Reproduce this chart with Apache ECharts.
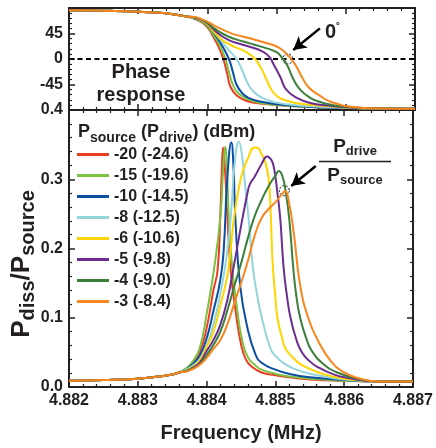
<!DOCTYPE html>
<html style="height: 100%">
<head>
<meta charset="utf-8">
<script src="https://cdn.jsdelivr.net/npm/echarts@6/dist/echarts.min.js"></script>
</head>
<body style="height: 100%; margin: 0; background: #fff">
<div id="container" style="width: 436px; height: 448px"></div>
<script type="text/javascript">
var FONT = '"Liberation Sans", Arial, sans-serif';
var INK = '#231f20';

// legend names and colours, in drawing order
var names = ['-20 (-24.6)', '-15 (-19.6)', '-10 (-14.5)', '-8 (-12.5)', '-6 (-10.6)', '-5 (-9.8)', '-4 (-9.0)', '-3 (-8.4)'];
var colors = ['#ee3b24', '#7dc242', '#0b4ea2', '#94d5dc', '#ffd400', '#6c2d91', '#3b7f3a', '#f7861f'];

// phase response (deg) - [MHz, deg]
var phaseStart = [[4.882, 86], [4.8825, 85], [4.883, 83.5], [4.8833, 81.5], [4.8835, 79], [4.8837, 75]];
var phaseEnd = [[4.8865, -87.5], [4.887, -88]];
var phase20 = [[4.8838, 71.5], [4.8839, 66], [4.884, 56], [4.88408, 40], [4.88416, 22], [4.88423, 0], [4.88429, -28], [4.88433, -48], [4.88442, -64], [4.88457, -74], [4.8848, -79], [4.8851, -82], [4.8855, -84.5], [4.886, -86.3]];
var phase15 = [[4.8838, 72], [4.8839, 67], [4.884, 57.5], [4.88408, 43], [4.88417, 26], [4.88426, 0], [4.88432, -27], [4.88437, -46], [4.88445, -61], [4.8846, -72], [4.8848, -78], [4.8851, -82], [4.8855, -84.5], [4.886, -86.3]];
var phase10 = [[4.8838, 72.5], [4.8839, 68], [4.884, 60], [4.8841, 45], [4.8842, 26], [4.88431, 0], [4.88437, -24], [4.88442, -45], [4.8845, -60], [4.8846, -69], [4.8848, -76], [4.8851, -81], [4.8855, -84.5], [4.886, -86.3]];
var phase8 = [[4.8838, 73], [4.8839, 69], [4.884, 62], [4.8841, 47], [4.8842, 32], [4.8843, 17], [4.88442, 0], [4.8845, -19], [4.88457, -40], [4.88466, -57], [4.8848, -69], [4.885, -77], [4.8852, -80.5], [4.8855, -83.5], [4.886, -86]];
var phase6 = [[4.8838, 73], [4.8839, 69], [4.884, 61], [4.8841, 47], [4.8842, 35], [4.8843, 27], [4.8844, 21], [4.8845, 16], [4.8846, 9], [4.88469, 0], [4.88478, -17], [4.88486, -38], [4.88493, -55], [4.885, -65], [4.8851, -72], [4.8853, -78], [4.8856, -82], [4.886, -85.5]];
var phase5 = [[4.8838, 73.5], [4.8839, 70], [4.884, 63], [4.8841, 51], [4.8842, 41], [4.8843, 34], [4.8844, 29], [4.8846, 22], [4.8848, 13], [4.8849, 3], [4.88495, -8], [4.88505, -31], [4.88514, -54], [4.8853, -69], [4.8855, -78], [4.8858, -83], [4.886, -85]];
var phase4 = [[4.8838, 74], [4.8839, 70.5], [4.884, 64], [4.8841, 54], [4.8842, 46], [4.8843, 40], [4.8844, 35], [4.8846, 28], [4.8848, 21], [4.885, 12], [4.88508, 2], [4.88515, -10], [4.88524, -35], [4.88534, -54], [4.88548, -68], [4.88563, -76], [4.8858, -81], [4.886, -84], [4.8862, -86]];
var phase3 = [[4.8838, 74.5], [4.8839, 71], [4.884, 66], [4.8841, 59], [4.8842, 53], [4.8843, 47.5], [4.8844, 43], [4.8846, 37], [4.8848, 30], [4.885, 22], [4.8851, 14], [4.88515, 8], [4.88521, 0], [4.88529, -14], [4.88538, -35], [4.88548, -52], [4.88563, -65], [4.88575, -74], [4.8859, -80], [4.886, -83], [4.8862, -86]];

// Pdiss/Psource - [MHz, ratio]
var dissStart = [[4.882, 0.009], [4.8825, 0.01], [4.883, 0.012], [4.8833, 0.015], [4.8835, 0.018], [4.8836, 0.021]];
var dissEnd = [[4.8865, 0.008], [4.887, 0.008]];
var diss20 = [[4.8837, 0.026], [4.8838, 0.035], [4.8839, 0.05], [4.884, 0.085], [4.8841, 0.14], [4.88416, 0.169], [4.8842, 0.25], [4.88422, 0.31], [4.88424, 0.346], [4.88427, 0.31], [4.8843, 0.25], [4.88435, 0.169], [4.88442, 0.111], [4.8845, 0.062], [4.88457, 0.04], [4.88465, 0.03], [4.8848, 0.021], [4.885, 0.017], [4.8852, 0.014], [4.8855, 0.011], [4.886, 0.009]];
var diss15 = [[4.8837, 0.027], [4.8838, 0.037], [4.8839, 0.056], [4.884, 0.105], [4.8841, 0.165], [4.8842, 0.245], [4.88424, 0.313], [4.88427, 0.347], [4.8843, 0.305], [4.88432, 0.25], [4.88437, 0.175], [4.88444, 0.115], [4.88452, 0.066], [4.8846, 0.043], [4.8847, 0.032], [4.8848, 0.025], [4.885, 0.019], [4.8852, 0.015], [4.8855, 0.012], [4.886, 0.009]];
var diss10 = [[4.8837, 0.025], [4.8838, 0.033], [4.8839, 0.045], [4.884, 0.07], [4.8841, 0.11], [4.8842, 0.155], [4.88425, 0.2], [4.8843, 0.3], [4.88436, 0.353], [4.88439, 0.32], [4.88442, 0.24], [4.88449, 0.145], [4.88459, 0.087], [4.88471, 0.047], [4.8848, 0.035], [4.885, 0.025], [4.8852, 0.019], [4.8855, 0.014], [4.886, 0.01]];
var diss8 = [[4.8837, 0.025], [4.8838, 0.031], [4.8839, 0.04], [4.884, 0.06], [4.8841, 0.09], [4.8842, 0.135], [4.8843, 0.195], [4.88437, 0.27], [4.8844, 0.315], [4.88447, 0.354], [4.88451, 0.338], [4.88456, 0.292], [4.88461, 0.244], [4.88467, 0.175], [4.88474, 0.13], [4.88481, 0.097], [4.88493, 0.055], [4.885, 0.045], [4.8851, 0.036], [4.8853, 0.025], [4.8856, 0.017], [4.886, 0.011]];
var diss6 = [[4.8837, 0.024], [4.8838, 0.029], [4.8839, 0.038], [4.884, 0.058], [4.8841, 0.08], [4.8842, 0.118], [4.8843, 0.16], [4.88435, 0.2], [4.8844, 0.245], [4.8845, 0.302], [4.8846, 0.33], [4.8847, 0.346], [4.88475, 0.345], [4.8848, 0.336], [4.88485, 0.326], [4.8849, 0.302], [4.88493, 0.255], [4.88496, 0.18], [4.885, 0.13], [4.88503, 0.1], [4.8851, 0.07], [4.88515, 0.055], [4.8853, 0.038], [4.8854, 0.031], [4.8856, 0.022], [4.8858, 0.016], [4.886, 0.012]];
var diss5 = [[4.8837, 0.023], [4.8838, 0.028], [4.8839, 0.035], [4.884, 0.052], [4.8841, 0.068], [4.8842, 0.09], [4.8843, 0.125], [4.8844, 0.177], [4.8845, 0.232], [4.8846, 0.283], [4.88463, 0.293], [4.8847, 0.304], [4.8848, 0.322], [4.88488, 0.333], [4.88494, 0.328], [4.88498, 0.316], [4.88503, 0.28], [4.88507, 0.244], [4.88512, 0.172], [4.88517, 0.13], [4.88522, 0.1], [4.8853, 0.07], [4.88538, 0.051], [4.8855, 0.037], [4.88563, 0.028], [4.8858, 0.02], [4.886, 0.014]];
var diss4 = [[4.8837, 0.023], [4.8838, 0.027], [4.8839, 0.033], [4.884, 0.046], [4.8841, 0.061], [4.8842, 0.08], [4.8843, 0.11], [4.8844, 0.145], [4.8845, 0.178], [4.8846, 0.215], [4.8847, 0.247], [4.8848, 0.27], [4.8849, 0.29], [4.885, 0.305], [4.88505, 0.312], [4.8851, 0.305], [4.88515, 0.282], [4.8852, 0.244], [4.88526, 0.172], [4.8853, 0.135], [4.88536, 0.1], [4.88545, 0.07], [4.88553, 0.052], [4.8857, 0.033], [4.8859, 0.021], [4.8862, 0.012]];
var diss3 = [[4.8837, 0.022], [4.8838, 0.026], [4.8839, 0.032], [4.884, 0.042], [4.8841, 0.055], [4.8842, 0.068], [4.8843, 0.09], [4.8844, 0.12], [4.8845, 0.15], [4.8846, 0.182], [4.8847, 0.219], [4.8848, 0.244], [4.8849, 0.257], [4.885, 0.267], [4.8851, 0.279], [4.88514, 0.283], [4.8852, 0.265], [4.88527, 0.22], [4.88536, 0.147], [4.88548, 0.099], [4.88563, 0.065], [4.88581, 0.037], [4.886, 0.021], [4.8862, 0.013]];

var phases = [phase20, phase15, phase10, phase8, phase6, phase5, phase4, phase3];
var disses = [diss20, diss15, diss10, diss8, diss6, diss5, diss4, diss3];

// annotation anchors (data units)
var phaseCircle = [4.88516, 0];
var phaseArrow = [[4.885626, 54], [4.88524, 16]];
var dissCircle = [4.88513, 0.2835];
var dissArrow = [[4.885587, 0.319], [4.885231, 0.2903]];

var dom = document.getElementById('container');
var myChart = echarts.init(dom, null, {renderer: 'canvas'});

var labelStyle = {color: INK, fontFamily: FONT, fontWeight: 'bold', fontSize: 16};

function xAx(grid, pos, labels) {
    return {
        type: 'value', gridIndex: grid, position: pos,
        min: 4.882, max: 4.887, interval: 0.001,
        axisLine: {onZero: false, lineStyle: {color: INK, width: 2}},
        axisTick: {inside: true, length: 6, lineStyle: {color: INK, width: 1.5}},
        minorTick: {show: true, splitNumber: 5, length: 3, lineStyle: {color: INK, width: 1.2}},
        splitLine: {show: false},
        axisLabel: labels ? Object.assign({margin: 6, formatter: function (v) { return v.toFixed(3); }}, labelStyle) : {show: false},
        name: labels ? 'Frequency (MHz)' : '',
        nameLocation: 'middle', nameGap: 36,
        nameTextStyle: {color: INK, fontFamily: FONT, fontWeight: 'bold', fontSize: 20}
    };
}
function yAx(grid, pos, min, max, step, labels, fmt) {
    return {
        type: 'value', gridIndex: grid, position: pos,
        min: min, max: max, interval: step,
        axisLine: {onZero: false, lineStyle: {color: INK, width: 2}},
        axisTick: {inside: true, length: 6, lineStyle: {color: INK, width: 1.5}},
        minorTick: {show: true, splitNumber: 5, length: 3, lineStyle: {color: INK, width: 1.2}},
        splitLine: {show: false},
        axisLabel: labels ? Object.assign({margin: 6, formatter: fmt}, labelStyle) : {show: false}
    };
}

var series = [];
names.forEach(function (n, i) {
    series.push({
        name: n, type: 'line', xAxisIndex: 0, yAxisIndex: 0,
        data: phaseStart.concat(phases[i], phaseEnd),
        symbol: 'none', smooth: 0.5, z: 3 + i,
        itemStyle: {color: colors[i]}, lineStyle: {color: colors[i], width: 2}
    });
    series.push({
        name: n, type: 'line', xAxisIndex: 2, yAxisIndex: 2,
        data: dissStart.concat(disses[i], dissEnd),
        symbol: 'none', smooth: 0.5, z: 3 + i,
        itemStyle: {color: colors[i]}, lineStyle: {color: colors[i], width: 2}
    });
});

// zero line, circles and arrows
var ring = {symbol: 'circle', symbolSize: 10, silent: true, label: {show: false},
    itemStyle: {color: 'rgba(0,0,0,0)', borderColor: '#000', borderWidth: 1, borderType: [2, 1.5]}};
series[14].markPoint = Object.assign({data: [{coord: phaseCircle}]}, ring);
series[14].markLine = {
    silent: true, symbol: 'none', label: {show: false}, animation: false,
    data: [
        {yAxis: 0, lineStyle: {color: '#000', width: 2, type: [5, 3.5]}},
        [{coord: phaseArrow[0], symbol: 'none', lineStyle: {color: '#000', width: 2.5, type: 'solid'}},
         {coord: phaseArrow[1], symbol: 'arrow', symbolSize: [11, 13]}]
    ]
};
series[15].markPoint = Object.assign({data: [{coord: dissCircle}]}, ring);
series[15].markLine = {
    silent: true, symbol: 'none', label: {show: false}, animation: false,
    data: [
        [{coord: dissArrow[0], symbol: 'none', lineStyle: {color: '#000', width: 2.5, type: 'solid'}},
         {coord: dissArrow[1], symbol: 'arrow', symbolSize: [11, 13]}]
    ]
};

var P = function (size, lh) { return {fontSize: size, lineHeight: lh, fontWeight: 'bold', fontFamily: FONT, fill: INK, verticalAlign: 'top'}; };
var S = function (size, lh, drop) { return {fontSize: size, lineHeight: lh, padding: [drop, 0, 0, 0], fontWeight: 'bold', fontFamily: FONT, fill: INK, verticalAlign: 'top'}; };

option = {
    animation: false,
    backgroundColor: '#fff',
    grid: [
        {left: 69, right: 21, top: 8, height: 102},
        {left: 69, right: 21, top: 110, height: 277}
    ],
    xAxis: [xAx(0, 'bottom', false), xAx(0, 'top', false), xAx(1, 'bottom', true), xAx(1, 'top', false)],
    yAxis: [
        yAx(0, 'left', -90, 90, 45, true, function (v) { return (v === 90 || v === -90) ? '' : String(v); }),
        yAx(0, 'right', -90, 90, 45, false),
        yAx(1, 'left', 0, 0.4, 0.1, true, function (v) { return v.toFixed(1); }),
        yAx(1, 'right', 0, 0.4, 0.1, false)
    ],
    legend: {
        data: names, orient: 'vertical', left: 77, top: 144, padding: 0,
        icon: 'rect', itemWidth: 32, itemHeight: 3, itemGap: 0, selectedMode: false,
        textStyle: {color: INK, fontFamily: FONT, fontWeight: 'bold', fontSize: 16, lineHeight: 21}
    },
    graphic: [
        {type: 'text', x: 23, y: 264, rotation: Math.PI / 2, silent: true, style: {
            text: '{p|P}{s|diss}{p|/P}{s|source}', align: 'center', verticalAlign: 'middle',
            rich: {p: P(26, 28), s: S(20, 22, 9)}}},
        {type: 'text', x: 78, y: 123, silent: true, style: {
            text: '{p|P}{s|source}{p| (P}{s|drive}{p|) (dBm)}', align: 'left', verticalAlign: 'top',
            rich: {p: P(18, 21), s: S(14, 16, 8)}}},
        {type: 'text', x: 141, y: 83.5, silent: true, style: {
            text: 'Phase\nresponse', align: 'center', verticalAlign: 'middle',
            fill: INK, fontFamily: FONT, fontWeight: 'bold', fontSize: 20, lineHeight: 23}},
        {type: 'text', x: 325, y: 22, silent: true, style: {
            text: '{a|0}{b|˚}', align: 'left', verticalAlign: 'top',
            rich: {a: P(20, 22), b: P(13, 14)}}},
        {type: 'text', x: 355, y: 137, silent: true, style: {
            text: '{p|P}{s|drive}', align: 'center', verticalAlign: 'top',
            rich: {p: P(19, 22), s: S(13, 15, 8)}}},
        {type: 'line', silent: true, shape: {x1: 319, y1: 161.5, x2: 391, y2: 161.5},
            style: {stroke: INK, lineWidth: 1.5}},
        {type: 'text', x: 355, y: 166, silent: true, style: {
            text: '{p|P}{s|source}', align: 'center', verticalAlign: 'top',
            rich: {p: P(19, 22), s: S(13, 15, 8)}}}
    ],
    series: series
};
myChart.setOption(option);
</script>
</body>
</html>
